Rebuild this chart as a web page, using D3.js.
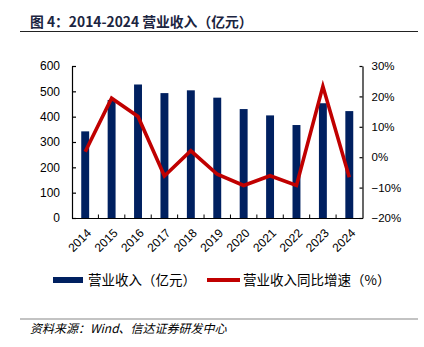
<!DOCTYPE html>
<html><head><meta charset="utf-8">
<script src="https://cdn.jsdelivr.net/npm/d3@7"></script>
<style>body{margin:0;background:#fff}svg{display:block}</style>
</head><body>
<svg id="c" width="424" height="347"></svg>
<script>
const years = ["2014","2015","2016","2017","2018","2019","2020","2021","2022","2023","2024"];
const revenue = [342, 466, 527, 493, 504, 475, 430, 405, 367, 453, 422];
const growth = [1.8, 19.4, 13.4, -6.2, 2.1, -5.6, -9.3, -6.1, -9.3, 23.3, -6.6];
const leftTicks = [0,100,200,300,400,500,600];
const rightTicks = [-20,-10,0,10,20,30];
const titleText = "图 4：2014-2024 营业收入（亿元）";
const legendLabels = ["营业收入（亿元）","营业收入同比增速（%）"];
const sourceText = "资料来源：Wind、信达证券研发中心";

const svg = d3.select("#c");
const L = 72, R = 362.5, T = 66, B = 218;
const font = "'Liberation Sans', Arial, 'Noto Sans CJK SC', sans-serif";
const cjk = "'Noto Sans CJK SC', sans-serif";

const x = d3.scaleBand().domain(years).range([L, R]).paddingInner(0.7).paddingOuter(0.35);
const xb = d3.scaleBand().domain(years).range([L, R]);
const yL = d3.scaleLinear().domain([0,600]).range([B, T]);
const yR = d3.scaleLinear().domain([-20,30]).range([B, T]);

// title
svg.append("text").attr("x",30).attr("y",27).attr("font-family",cjk).attr("font-weight","bold")
  .attr("font-size",13.8).attr("fill","#1b2440").text(titleText);
svg.append("line").attr("x1",20).attr("x2",418).attr("y1",31.5).attr("y2",31.5).attr("stroke","#222").attr("stroke-width",1.2);

// bars
svg.append("g").selectAll("rect").data(years).join("rect")
  .attr("x",d=>x(d)).attr("width",x.bandwidth())
  .attr("y",(d,i)=>yL(revenue[i])).attr("height",(d,i)=>B-yL(revenue[i]))
  .attr("fill","#002060");

// line
svg.append("path").datum(growth)
  .attr("d", d3.line().x((d,i)=>xb(years[i])+xb.bandwidth()/2).y(d=>yR(d)))
  .attr("fill","none").attr("stroke","#c00000").attr("stroke-width",3.6).attr("stroke-linejoin","miter");

// axes
const axL = d3.axisLeft(yL).tickValues(leftTicks).tickSizeInner(-4).tickSizeOuter(0).tickPadding(12);
const gL = svg.append("g").attr("transform",`translate(${L},0)`).call(axL);
const axR = d3.axisRight(yR).tickValues(rightTicks).tickSizeInner(-3).tickSizeOuter(0).tickPadding(9)
  .tickFormat(d=>(d<0?"\u2212"+Math.abs(d):d)+"%");
const gR = svg.append("g").attr("transform",`translate(${R},0)`).call(axR);
const gX = svg.append("g").attr("transform",`translate(0,${B})`)
  .call(d3.axisBottom(xb).tickSize(0).tickFormat(""));
// inward ticks at band boundaries
svg.append("g").selectAll("line").data(years.slice(1)).join("line")
  .attr("x1",d=>xb(d)).attr("x2",d=>xb(d)).attr("y1",B).attr("y2",B-3.5)
  .attr("stroke","#000").attr("stroke-width",1);
[gL,gR,gX].forEach(g=>{
  g.selectAll("path,line").attr("stroke","#000").attr("stroke-width",1.2);
  g.selectAll("text").attr("font-family",font).attr("font-size",12).attr("fill","#000");
});
gR.selectAll("text").attr("font-size",11.5);
// x labels
svg.append("g").selectAll("text").data(years).join("text")
  .attr("transform",d=>`translate(${xb(d)+xb.bandwidth()/2+3},${B+12}) rotate(-45)`)
  .attr("text-anchor","end").attr("dy","0.45em").attr("font-family",font).attr("font-size",12)
  .text(d=>d);

// legend
const ly = 280;
svg.append("rect").attr("x",53).attr("y",ly-3).attr("width",30).attr("height",6).attr("fill","#002060");
svg.append("text").attr("x",88).attr("y",ly+5).attr("font-family",cjk).attr("font-size",13.5).text(legendLabels[0]);
svg.append("line").attr("x1",207).attr("x2",240).attr("y1",ly).attr("y2",ly).attr("stroke","#c00000").attr("stroke-width",4);
svg.append("text").attr("x",243).attr("y",ly+5).attr("font-family",cjk).attr("font-size",13.5).text(legendLabels[1]);

// source
svg.append("line").attr("x1",20).attr("x2",418).attr("y1",319).attr("y2",319).attr("stroke","#888").attr("stroke-width",1.2);
svg.append("text").attr("x",30).attr("y",333).attr("font-family",cjk).attr("font-size",12)
  .attr("font-style","italic").text(sourceText);
</script>
</body></html>
